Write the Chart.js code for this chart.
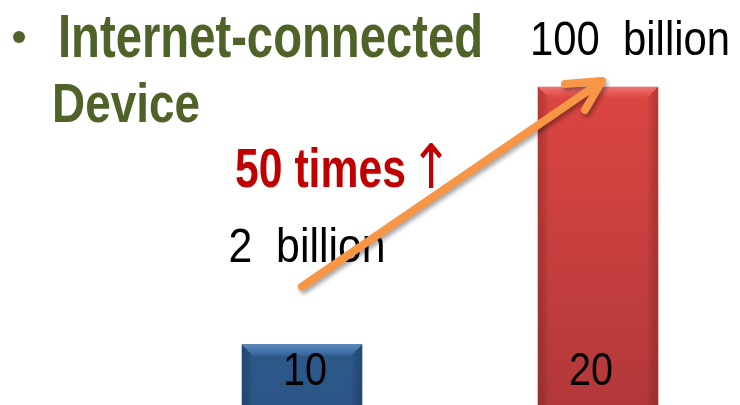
<!DOCTYPE html>
<html>
<head>
<meta charset="utf-8">
<script src="https://cdn.jsdelivr.net/npm/chart.js@4"></script>
<style>
html,body{margin:0;padding:0;background:#fff;}
canvas{display:block;}
</style>
</head>
<body>
<canvas id="c" width="740" height="405"></canvas>
<script>
// ---- data ----
const categories = ["10", "20"];              // category labels shown inside bars
const devicesBillion = [2, 100];              // internet-connected devices, billions
const valueLabels = ["2  billion", "100  billion"];
const titleLines = ["Internet-connected", "Device"];
const growthWord = "50 times";
const growthArrow = "\u2191";

const NARROW = "'Liberation Sans Narrow','Liberation Sans',Arial,sans-serif";

function fitText(ctx, text, x, y, width, font, color, align) {
  ctx.save();
  ctx.font = font;
  ctx.fillStyle = color;
  ctx.textBaseline = 'alphabetic';
  ctx.textAlign = 'left';
  const w = ctx.measureText(text).width;
  const sx = width / w;
  let left = x;
  if (align === 'center') left = x - width / 2;
  ctx.translate(left, y);
  ctx.scale(sx, 1);
  ctx.fillText(text, 0, 0);
  ctx.restore();
}

// fit the ink box of a glyph to a target box
function fitBox(ctx, text, x0, y0, x1, y1, font, color) {
  ctx.save();
  ctx.font = font;
  ctx.fillStyle = color;
  ctx.textBaseline = 'alphabetic';
  ctx.textAlign = 'left';
  const m = ctx.measureText(text);
  const iw = m.actualBoundingBoxLeft + m.actualBoundingBoxRight;
  const ih = m.actualBoundingBoxAscent + m.actualBoundingBoxDescent;
  const sx = (x1 - x0) / iw, sy = (y1 - y0) / ih;
  ctx.translate(x0, y0);
  ctx.scale(sx, sy);
  ctx.fillText(text, m.actualBoundingBoxLeft, m.actualBoundingBoxAscent);
  ctx.restore();
}

const barColors = [
  {top: '#33649a', bottom: '#2b5687', bevelTop: '#5b88bd', side: 'rgba(20,45,80,0.35)'},
  {top: '#db4642', bottom: '#b2383a', bevelTop: '#ee7370', side: 'rgba(110,20,20,0.30)'}
];

const decor = {
  id: 'decor',
  beforeDraw(chart) {
    const ctx = chart.ctx;
    ctx.save();
    ctx.fillStyle = '#fff';
    ctx.fillRect(0, 0, chart.width, chart.height);
    ctx.restore();
  },
  afterDatasetsDraw(chart) {
    const ctx = chart.ctx;
    const meta = chart.getDatasetMeta(0);
    meta.data.forEach((bar, i) => {
      const c = barColors[i];
      const l = bar.x - bar.width / 2, r = bar.x + bar.width / 2;
      const t = bar.y, b = bar.base;
      const bev = 11;
      ctx.save();
      let g = ctx.createLinearGradient(0, t, 0, t + bev);
      g.addColorStop(0, c.bevelTop);
      g.addColorStop(1, c.top);
      ctx.fillStyle = g;
      ctx.beginPath();
      ctx.moveTo(l, t); ctx.lineTo(r, t); ctx.lineTo(r - bev, t + bev); ctx.lineTo(l + bev, t + bev); ctx.closePath();
      ctx.fill();
      g = ctx.createLinearGradient(l, 0, l + bev, 0);
      g.addColorStop(0, c.side); g.addColorStop(1, 'rgba(0,0,0,0)');
      ctx.fillStyle = g;
      ctx.beginPath();
      ctx.moveTo(l, t); ctx.lineTo(l + bev, t + bev); ctx.lineTo(l + bev, b); ctx.lineTo(l, b); ctx.closePath();
      ctx.fill();
      g = ctx.createLinearGradient(r, 0, r - bev, 0);
      g.addColorStop(0, c.side); g.addColorStop(1, 'rgba(0,0,0,0)');
      ctx.fillStyle = g;
      ctx.beginPath();
      ctx.moveTo(r, t); ctx.lineTo(r - bev, t + bev); ctx.lineTo(r - bev, b); ctx.lineTo(r, b); ctx.closePath();
      ctx.fill();
      ctx.restore();
      fitText(ctx, categories[i], bar.x + (i === 0 ? 3 : -7), 385, 44, "46px 'Liberation Sans',sans-serif", '#000', 'center');
    });

    const p0 = meta.data[0], p1 = meta.data[1];
    fitText(ctx, valueLabels[0], p0.x + 5, p0.y - 83, 157, "48px " + NARROW, '#000', 'center');
    fitText(ctx, valueLabels[1], p1.x + 32, p1.y - 32, 200, "48px " + NARROW, '#000', 'center');

    fitText(ctx, growthWord, 235, 187, 171, "bold 55px " + NARROW, '#c00000', 'left');
    fitBox(ctx, growthArrow, 420, 143, 443, 188, "60px 'DejaVu Sans'", '#c00000');

    const x0 = p0.x, y0 = p0.y - 58, x1 = p1.x + 4, y1 = p1.y - 6;
    ctx.save();
    ctx.shadowColor = 'rgba(0,0,0,0.35)';
    ctx.shadowOffsetX = 2; ctx.shadowOffsetY = 3; ctx.shadowBlur = 4;
    ctx.strokeStyle = '#f79646';
    ctx.lineWidth = 8;
    ctx.lineCap = 'round';
    ctx.lineJoin = 'round';
    ctx.beginPath();
    ctx.moveTo(x0, y0); ctx.lineTo(x1 - 4, y1 + 3);
    ctx.moveTo(x1 - 37, y1 + 3); ctx.lineTo(x1, y1); ctx.lineTo(x1 - 17, y1 + 29);
    ctx.stroke();
    ctx.restore();

    ctx.save();
    ctx.fillStyle = '#4f6228';
    ctx.beginPath(); ctx.arc(19, 37, 6, 0, Math.PI * 2); ctx.fill();
    ctx.restore();
    fitText(ctx, titleLines[0], 58, 57, 425, "bold 62px " + NARROW, '#4f6228', 'left');
    fitText(ctx, titleLines[1], 52, 122, 148, "bold 56px " + NARROW, '#4f6228', 'left');
  }
};

new Chart(document.getElementById('c'), {
  type: 'bar',
  data: {
    labels: categories,
    datasets: [{
      data: devicesBillion,
      barThickness: 120,
      clip: false,
      backgroundColor(ctx) {
        const chart = ctx.chart;
        const c = barColors[ctx.dataIndex % 2];
        if (!chart.chartArea) return c.top;
        const g = chart.ctx.createLinearGradient(0, chart.chartArea.top, 0, chart.chartArea.bottom);
        g.addColorStop(0, c.top);
        g.addColorStop(1, c.bottom);
        return g;
      },
      borderWidth: 0
    }]
  },
  options: {
    responsive: false,
    animation: false,
    devicePixelRatio: 1,
    layout: {padding: {left: 302, right: 142, top: 87, bottom: 0}},
    plugins: {legend: {display: false}, tooltip: {enabled: false}},
    scales: {
      x: {display: false, offset: false, grid: {display: false}},
      y: {display: false, type: 'logarithmic', min: 0.8, max: 100}
    }
  },
  plugins: [decor]
});
</script>
</body>
</html>
